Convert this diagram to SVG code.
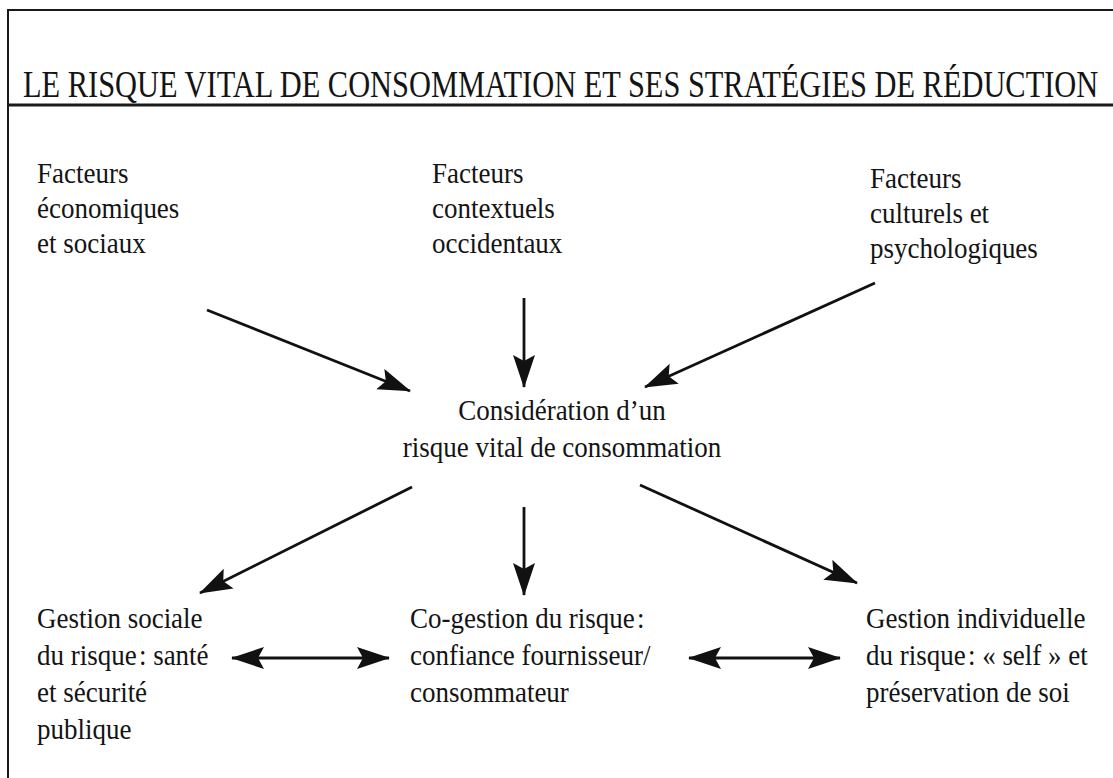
<svg xmlns="http://www.w3.org/2000/svg" width="1113" height="778" viewBox="0 0 1113 778">
  <style>
    .t { font-family: "Liberation Serif", "Times New Roman", serif; font-size: 30px; fill: #141414; }
    .title { font-family: "Liberation Serif", "Times New Roman", serif; font-size: 38px; fill: #141414; }
    .frame { stroke: #1a1a1a; fill: none; }
    .arrow { stroke: #111; stroke-width: 2.8; fill: none; }
  </style>
  <defs>
    <!-- solid arrowhead shared by every connector -->
    <marker id="head" markerUnits="userSpaceOnUse" markerWidth="36" markerHeight="24" refX="32" refY="11" orient="auto-start-reverse">
      <path d="M0,0 L33,11 L0,22 L6,11 z" fill="#111"/>
    </marker>
  </defs>

  <rect width="1113" height="778" fill="#ffffff"/>

  <!-- frame and title band -->
  <g id="frame">
    <line class="frame" x1="8" y1="10" x2="1113" y2="10" stroke-width="2"/>
    <line class="frame" x1="8" y1="9" x2="8" y2="778" stroke-width="2"/>
    <line class="frame" x1="8" y1="105" x2="1113" y2="105" stroke-width="3"/>
  </g>

  <!-- condensed capitals across the full width -->
  <g id="title" transform="translate(23,0) scale(0.8,1)">
    <text class="title" x="0" y="97">LE RISQUE VITAL DE CONSOMMATION ET SES STRATÉGIES DE RÉDUCTION</text>
  </g>

  <!-- upstream factors (narrow serif: glyphs squeezed horizontally) -->
  <g id="facteurs-economiques" transform="translate(37,0) scale(0.9,1)">
    <text class="t" x="0" y="183">Facteurs</text>
    <text class="t" x="0" y="218">économiques</text>
    <text class="t" x="0" y="253">et sociaux</text>
  </g>
  <g id="facteurs-contextuels" transform="translate(432,0) scale(0.9,1)">
    <text class="t" x="0" y="183">Facteurs</text>
    <text class="t" x="0" y="218">contextuels</text>
    <text class="t" x="0" y="253">occidentaux</text>
  </g>
  <g id="facteurs-culturels" transform="translate(870,0) scale(0.9,1)">
    <text class="t" x="0" y="188">Facteurs</text>
    <text class="t" x="0" y="223">culturels et</text>
    <text class="t" x="0" y="258">psychologiques</text>
  </g>

  <!-- central node -->
  <g id="risque-vital" transform="translate(562,0) scale(0.9,1)">
    <text class="t" x="0" y="420" text-anchor="middle">Considération d’un</text>
    <text class="t" x="0" y="457" text-anchor="middle">risque vital de consommation</text>
  </g>

  <!-- reduction strategies -->
  <g id="gestion-sociale" transform="translate(37,0) scale(0.9,1)">
    <text class="t" x="0" y="628">Gestion sociale</text>
    <text class="t" x="0" y="665">du risque&#8202;: santé</text>
    <text class="t" x="0" y="702">et sécurité</text>
    <text class="t" x="0" y="739">publique</text>
  </g>
  <g id="co-gestion" transform="translate(410,0) scale(0.9,1)">
    <text class="t" x="0" y="628">Co-gestion du risque&#8202;:</text>
    <text class="t" x="0" y="665">confiance fournisseur/</text>
    <text class="t" x="0" y="702">consommateur</text>
  </g>
  <g id="gestion-individuelle" transform="translate(866,0) scale(0.9,1)">
    <text class="t" x="0" y="628">Gestion individuelle</text>
    <text class="t" x="0" y="665">du risque&#8202;: « self » et</text>
    <text class="t" x="0" y="702">préservation de soi</text>
  </g>

  <!-- connectors -->
  <g id="connectors">
    <line class="arrow" x1="207" y1="310" x2="410" y2="391" marker-end="url(#head)"/>
    <line class="arrow" x1="524" y1="298" x2="524" y2="387" marker-end="url(#head)"/>
    <line class="arrow" x1="875" y1="283" x2="645" y2="387" marker-end="url(#head)"/>
    <line class="arrow" x1="412" y1="487" x2="200" y2="593" marker-end="url(#head)"/>
    <line class="arrow" x1="524" y1="507" x2="524" y2="595" marker-end="url(#head)"/>
    <line class="arrow" x1="640" y1="485" x2="857" y2="583" marker-end="url(#head)"/>
    <line class="arrow" x1="232" y1="658" x2="389" y2="658" marker-start="url(#head)" marker-end="url(#head)"/>
    <line class="arrow" x1="689" y1="658" x2="840" y2="658" marker-start="url(#head)" marker-end="url(#head)"/>
  </g>
</svg>
